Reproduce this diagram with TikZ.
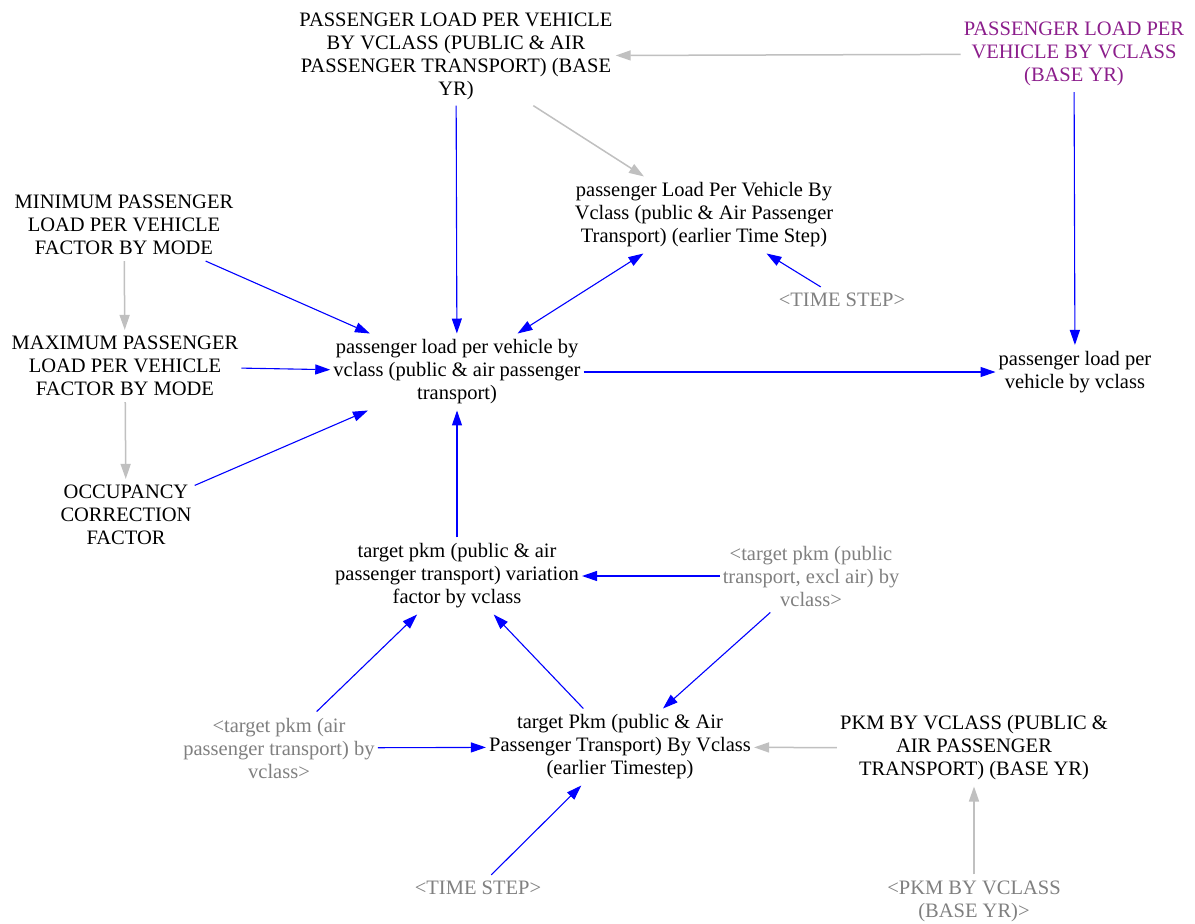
\documentclass[tikz,border=0pt]{standalone}
\usepackage{fontspec}
\newfontfamily\vfont{LiberationSerif}[Extension=.ttf, UprightFont=*-Regular, BoldFont=*-Bold]
\usetikzlibrary{arrows.meta}
\definecolor{vblue}{RGB}{0,0,255}
\definecolor{vgrey}{RGB}{192,192,192}
\definecolor{vtext}{RGB}{128,128,128}
\definecolor{vpurple}{RGB}{140,30,140}
\begin{document}
\begin{tikzpicture}[x=1pt,y=-1pt,
  var/.style={align=center, font=\vfont\fontsize{20.5}{23}\selectfont, inner xsep=3pt, inner ysep=6pt},
  shadow/.style={var, text=vtext},
  link/.style={color=vblue, line width=1.1pt, -{Triangle[length=15pt,width=10pt]}},
  bilink/.style={color=vblue, line width=1.1pt, {Triangle[length=15pt,width=10pt]}-{Triangle[length=15pt,width=10pt]}},
  glink/.style={color=vgrey, line width=1.5pt, -{Triangle[length=15pt,width=10pt]}}
]
\useasboundingbox (0,0) rectangle (1195,924);
\fill[white] (0,0) rectangle (1195,924);

\node[var] (top) at (456,56) {PASSENGER LOAD PER VEHICLE\\BY VCLASS (PUBLIC \& AIR\\PASSENGER TRANSPORT) (BASE\\YR)};
\node[var, text=vpurple] (pbase) at (1074,54) {PASSENGER LOAD PER\\VEHICLE BY VCLASS\\(BASE YR)};
\node[var] (prev) at (704,215) {passenger Load Per Vehicle By\\Vclass (public \& Air Passenger\\Transport) (earlier Time Step)};
\node[shadow] (ts1) at (842,300) {<TIME STEP>};
\node[var] (min) at (124,225) {MINIMUM PASSENGER\\LOAD PER VEHICLE\\FACTOR BY MODE};
\node[var] (max) at (125,366) {MAXIMUM PASSENGER\\LOAD PER VEHICLE\\FACTOR BY MODE};
\node[var] (occ) at (126,515) {OCCUPANCY\\CORRECTION\\FACTOR};
\node[var] (main) at (457,372) {passenger load per vehicle by\\vclass (public \& air passenger\\transport)};
\node[var] (plv) at (1075,372) {passenger load per\\vehicle by vclass};
\node[var] (vf) at (457,576) {target pkm (public \& air\\passenger transport) variation\\factor by vclass};
\node[shadow] (excl) at (811,576) {<target pkm (public\\transport, excl air) by\\vclass>};
\node[shadow] (air) at (279,748) {<target pkm (air\\passenger transport) by\\vclass>};
\node[var] (prevT) at (620,747) {target Pkm (public \& Air\\Passenger Transport) By Vclass\\(earlier Timestep)};
\node[var] (pkm) at (974,748) {PKM BY VCLASS (PUBLIC \&\\AIR PASSENGER\\TRANSPORT) (BASE YR)};
\node[shadow] (pkmb) at (974,901) {<PKM BY VCLASS\\(BASE YR)>};
\node[shadow] (ts2) at (478,888) {<TIME STEP>};

\draw[glink] (pbase) -- (top);
\draw[glink] (top) -- (prev);
\draw[link] (top) -- (main);
\draw[link] (pbase) -- (plv);
\draw[link] (min) -- (main);
\draw[glink] (min) -- (max);
\draw[link] (max) -- (main);
\draw[glink] (max) -- (occ);
\draw[link] (occ) -- (main);
\draw[bilink] (prev) -- (main);
\draw[link] (ts1) -- (prev);
\draw[link] (main) -- (plv);
\draw[link] (vf) -- (main);
\draw[link] (excl) -- (vf);
\draw[link] (excl) -- (prevT);
\draw[link] (air) -- (vf);
\draw[link] (prevT) -- (vf);
\draw[link] (air) -- (prevT);
\draw[glink] (pkm) -- (prevT);
\draw[link] (ts2) -- (prevT);
\draw[glink] (pkmb) -- (pkm);
\end{tikzpicture}
\end{document}
